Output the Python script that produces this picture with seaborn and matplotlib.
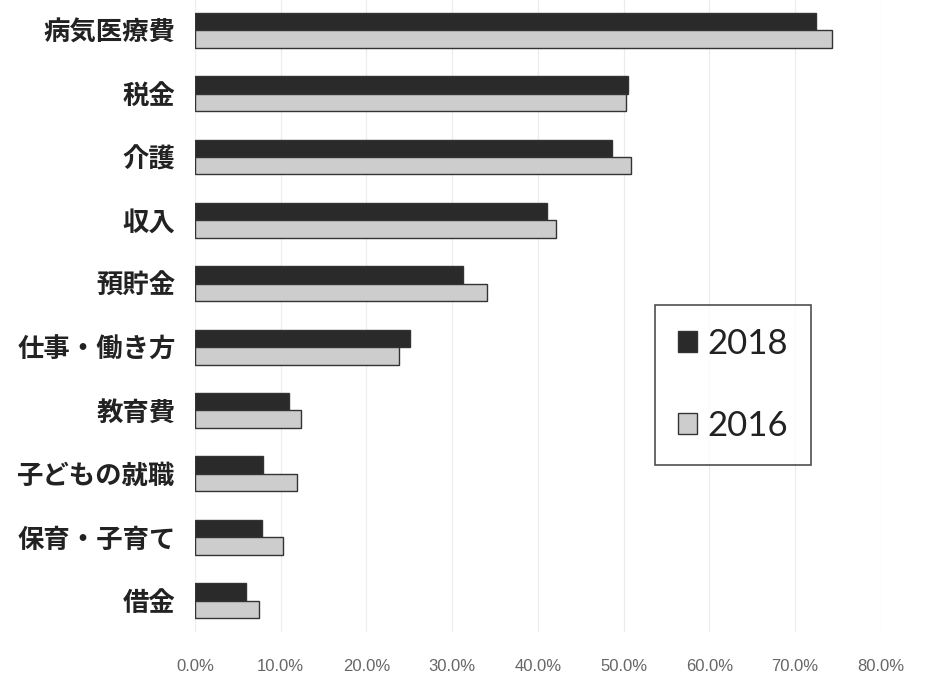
import pandas as pd
import numpy as np
import matplotlib.pyplot as plt
import seaborn as sns
from matplotlib.patches import Patch

# Daten
categories = ['病気医療費', '税金', '介護', '収入', '預貯金',
              '仕事・働き方', '教育費', '子どもの就職', '保育・子育て', '借金']
values_2018 = [72.5, 50.5, 48.6, 41.1, 31.3, 25.1, 11.0, 7.9, 7.8, 5.9]
values_2016 = [74.3, 50.3, 50.9, 42.1, 34.1, 23.8, 12.4, 11.9, 10.3, 7.5]
years = ['2018', '2016']
x_ticks = [0, 10, 20, 30, 40, 50, 60, 70, 80]

df = pd.DataFrame({
    '項目': categories * 2,
    '割合': values_2018 + values_2016,
    '年': ['2018'] * len(categories) + ['2016'] * len(categories),
})

sns.set_theme(style='white')
plt.rcParams['font.family'] = ['Noto Sans CJK JP', 'DejaVu Sans']

fig = plt.figure(figsize=(9.47, 6.74), dpi=100)
ax = fig.add_axes([0.206, 0.062, 0.724, 0.94])

colors = {'2018': '#2a2a2a', '2016': '#cdcdcd'}
sns.barplot(data=df, y='項目', x='割合', hue='年', hue_order=years,
            palette=colors, width=0.55, orient='h', edgecolor='#333333',
            linewidth=1.0, ax=ax, legend=False)

ax.set_xlim(0, 80)
ax.set_xticks(x_ticks)
ax.set_xticklabels([f'{t:.1f}%' for t in x_ticks], family='Liberation Sans',
                   fontsize=12, color='#666666')
ax.set_xlabel('')
ax.set_ylabel('')
ax.tick_params(axis='x', length=0, pad=19)
ax.tick_params(axis='y', length=0, pad=14)
for lab in ax.get_yticklabels():
    lab.set_fontsize(19)
    lab.set_fontweight('bold')
    lab.set_color('#222222')

ax.grid(axis='x', color='#ececec', linewidth=0.8)
ax.set_axisbelow(True)
for s in ax.spines.values():
    s.set_visible(False)

# Legende
handles = [Patch(facecolor=colors[y], edgecolor='#333333', linewidth=1.0) for y in years]
leg = fig.legend(handles, years, loc='upper left', bbox_to_anchor=(0.692, 0.547),
                 borderaxespad=0, prop={'family': 'Lato', 'size': 25}, frameon=True,
                 fancybox=False, edgecolor='#222222', handlelength=0.55,
                 handleheight=0.55, handletextpad=0.3, labelspacing=1.45,
                 borderpad=0.65)
leg.get_frame().set_linewidth(1.2)
for t in leg.get_texts():
    t.set_color('#222222')

fig.savefig('out.png', dpi=100)
